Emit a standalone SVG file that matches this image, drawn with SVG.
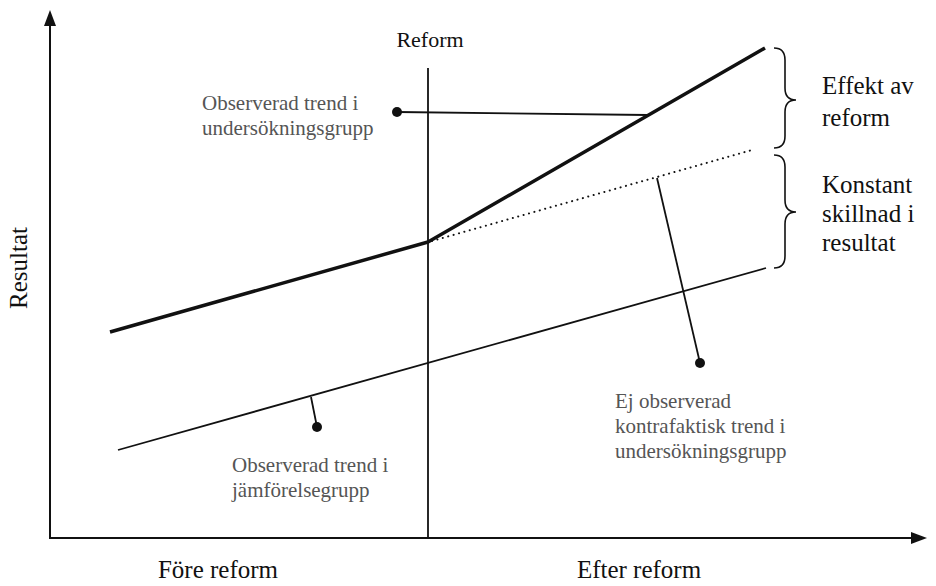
<svg xmlns="http://www.w3.org/2000/svg" width="936" height="586" viewBox="0 0 936 586">
<style>
.t{font-family:"Liberation Serif","Times New Roman",serif;fill:#111}
.big{font-size:25px}
.g{font-family:"Liberation Serif","Times New Roman",serif;font-size:21px;fill:#555}
.ax{stroke:#111;stroke-width:2;fill:none}
.thin{stroke:#111;stroke-width:1.8;fill:none}
.thick{stroke:#111;stroke-width:3.5;fill:none;stroke-linejoin:round}
.dot{fill:#111}
.brace{stroke:#111;stroke-width:1.6;fill:none}
</style>
<rect width="936" height="586" fill="#fff"/>
<g id="axes">
<line class="ax" x1="50" y1="538" x2="50" y2="24"/>
<path d="M50,10 L44,26 L56,26 Z" fill="#111"/>
<line class="ax" x1="49" y1="538" x2="912" y2="538"/>
<path d="M927,538 L911,532 L911,544 Z" fill="#111"/>
</g>
<g id="reform-line">
<line class="thin" x1="428" y1="68" x2="428" y2="538" stroke-width="1.6"/>
<text class="t" font-size="22" x="430" y="47" text-anchor="middle">Reform</text>
</g>
<g id="treatment-trend">
<polyline class="thick" points="110,332 428,242 765,48"/>
</g>
<g id="counterfactual-trend">
<line x1="432" y1="241" x2="752" y2="150" stroke="#111" stroke-width="2" stroke-dasharray="0.1 5.5" stroke-linecap="round"/>
</g>
<g id="comparison-trend">
<line class="thin" x1="118" y1="450" x2="766" y2="268"/>
</g>
<g id="connectors">
<line class="thin" x1="397" y1="112" x2="648" y2="115"/>
<circle class="dot" cx="397" cy="112" r="5"/>
<line class="thin" x1="657" y1="178" x2="700" y2="363"/>
<circle class="dot" cx="700" cy="363" r="5"/>
<line class="thin" x1="311" y1="397" x2="317" y2="427"/>
<circle class="dot" cx="317" cy="427" r="5"/>
</g>
<g id="brace-effect">
<path class="brace" d="M774,48 Q785,48 785,60 L785,88 Q785,100 796,100 Q785,100 785,112 L785,136 Q785,148 774,148"/>
<text class="t big" x="822" y="94">Effekt av</text>
<text class="t big" x="822" y="126">reform</text>
</g>
<g id="brace-constant">
<path class="brace" d="M774,155 Q785,155 785,167 L785,200 Q785,212 796,212 Q785,212 785,224 L785,256 Q785,268 774,268"/>
<text class="t big" x="822" y="193">Konstant</text>
<text class="t big" x="822" y="222">skillnad i</text>
<text class="t big" x="822" y="251">resultat</text>
</g>
<g id="label-treatment">
<text class="g" x="202" y="110">Observerad trend i</text>
<text class="g" x="202" y="135">undersökningsgrupp</text>
</g>
<g id="label-counterfactual">
<text class="g" x="615" y="408">Ej observerad</text>
<text class="g" x="615" y="433">kontrafaktisk trend i</text>
<text class="g" x="615" y="458">undersökningsgrupp</text>
</g>
<g id="label-comparison">
<text class="g" x="232" y="472">Observerad trend i</text>
<text class="g" x="232" y="497">jämförelsegrupp</text>
</g>
<g id="axis-labels">
<text class="t big" x="27" y="268" text-anchor="middle" transform="rotate(-90 27 268)">Resultat</text>
<text class="t big" x="218" y="578" text-anchor="middle">Före reform</text>
<text class="t big" x="639" y="578" text-anchor="middle">Efter reform</text>
</g>
</svg>
